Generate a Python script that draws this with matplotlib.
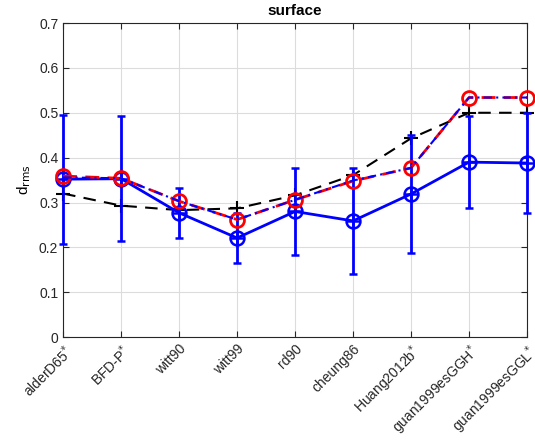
import matplotlib
matplotlib.use("Agg")
import matplotlib.pyplot as plt
import matplotlib.transforms as mtransforms
import numpy as np

plt.rcParams['font.family'] = ['Liberation Sans', 'DejaVu Sans']

labels = ["alderD65*", "BFD-P*", "witt90", "witt99", "rd90", "cheung86",
          "Huang2012b*", "guan1999esGGH*", "guan1999esGGL*"]
blue_mean = [0.352, 0.353, 0.277, 0.221, 0.280, 0.259, 0.319, 0.390, 0.388]
blue_err = [0.144, 0.139, 0.056, 0.055, 0.096, 0.118, 0.131, 0.103, 0.112]
red_vals = [0.359, 0.354, 0.303, 0.262, 0.306, 0.348, 0.377, 0.534, 0.534]
dashdot_vals = [0.356, 0.354, 0.303, 0.262, 0.306, 0.349, 0.377, 0.534, 0.534]
black_vals = [0.320, 0.293, 0.283, 0.287, 0.316, 0.361, 0.443, 0.500, 0.500]

def fmt(s):
    if s.endswith('*'):
        return s[:-1] + r'$^{*}$'
    return s

x = np.arange(1, len(labels) + 1)

fig = plt.figure(figsize=(5.35, 4.43), dpi=100)
ax = fig.add_axes([0.118, 0.239, 0.867, 0.709])

ax.plot(x, black_vals, color='black', linestyle=(0, (6, 4)), linewidth=1.5,
        marker='+', markersize=10, markeredgewidth=1.5, zorder=3, clip_on=False)
eb = ax.errorbar(x, blue_mean, yerr=blue_err, color='blue', linewidth=2,
                 capsize=3, capthick=2, elinewidth=2, marker='o', markersize=10,
                 markerfacecolor='none', markeredgewidth=1.8, zorder=4)
for art in eb.get_children():
    art.set_clip_on(False)
ax.plot(x, blue_mean, linestyle='none', marker='+', markersize=10,
        markeredgewidth=1.8, color='blue', zorder=5, clip_on=False)
ax.plot(x, red_vals, color='red', linestyle=(0, (5, 3)), linewidth=2,
        marker='o', markersize=10, markerfacecolor='none', markeredgewidth=2,
        zorder=6, clip_on=False)
ax.plot(x, dashdot_vals, color='blue', linestyle=(0, (4, 2, 1, 2)), linewidth=1.5,
        zorder=7, clip_on=False)

ax.set_xlim(1, len(labels))
ax.set_ylim(0, 0.7)
ax.set_yticks(np.arange(0, 0.71, 0.1))
ax.set_yticklabels(['0', '0.1', '0.2', '0.3', '0.4', '0.5', '0.6', '0.7'])
ax.set_xticks(x)
ax.set_xticklabels([fmt(l) for l in labels], rotation=45, ha='right',
                   rotation_mode='anchor', fontsize=9.5)
offset = mtransforms.ScaledTranslation(-6 / 100, 0, fig.dpi_scale_trans)
for lab in ax.get_xticklabels():
    lab.set_transform(lab.get_transform() + offset)
ax.tick_params(direction='in', labelsize=10, colors='#262626', length=4,
               top=True, right=True)
for s in ax.spines.values():
    s.set_color('#262626')
    s.set_linewidth(0.8)
ax.grid(True, color='#dcdcdc', linewidth=0.8)
ax.set_axisbelow(True)
ax.set_ylabel(r'd$_{\rm rms}$', fontsize=11)
ax.set_title('surface', fontsize=11, fontweight='bold')

fig.savefig('out.png', dpi=100)
